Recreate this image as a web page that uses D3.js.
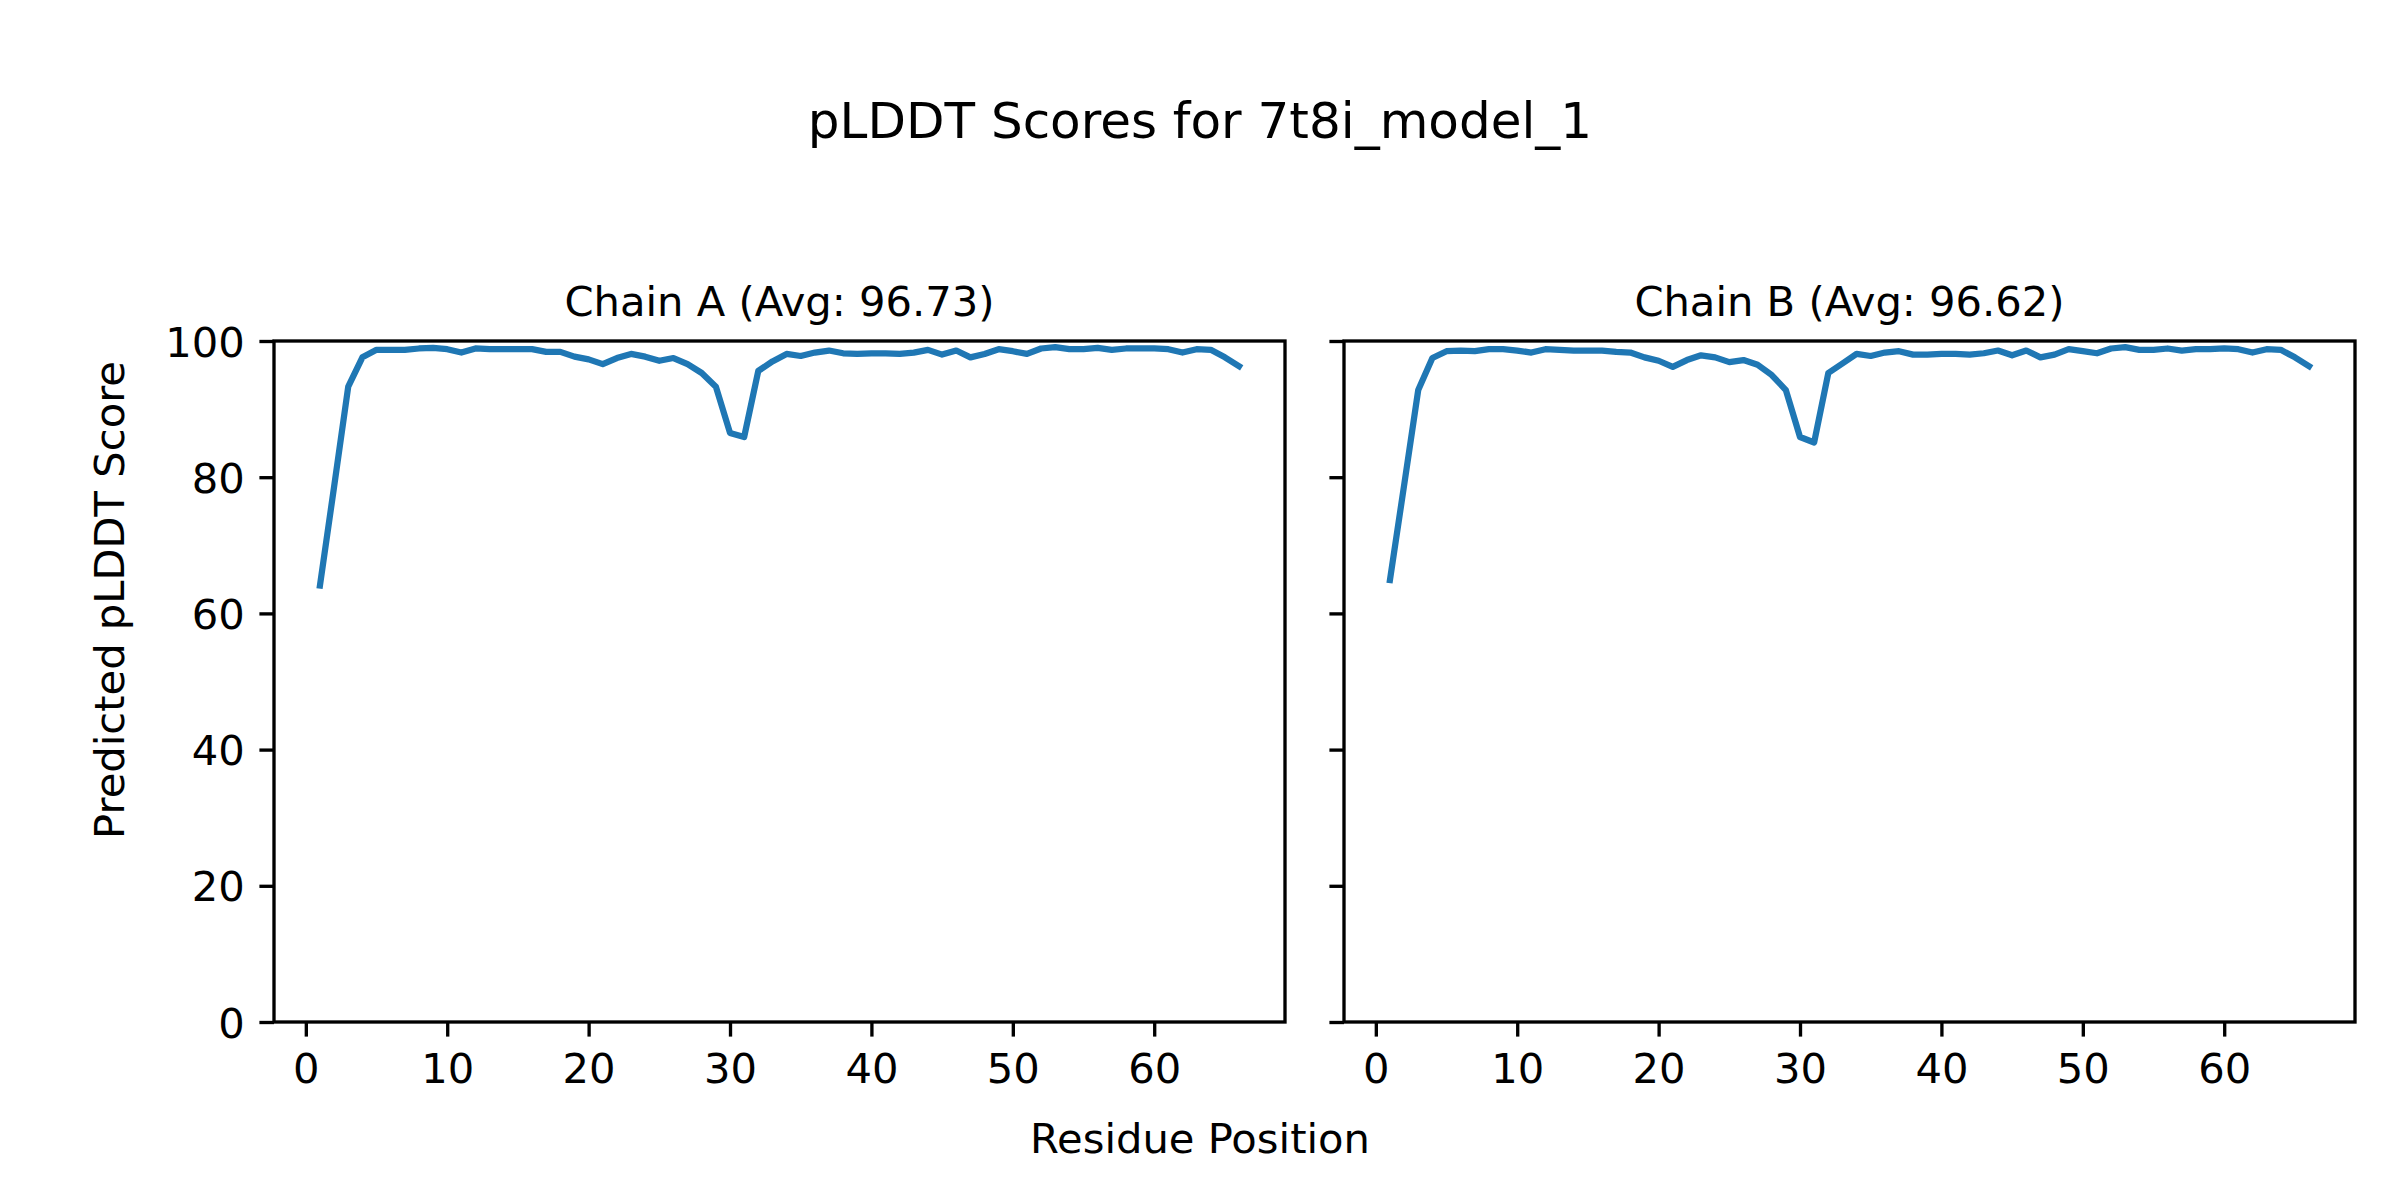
<!DOCTYPE html>
<html>
<head>
<meta charset="utf-8">
<script src="https://cdn.jsdelivr.net/npm/d3@7"></script>
<style>
    body { margin: 0; background: #fff; }
    text { font-family: 'DejaVu Sans', sans-serif; fill: #000; }
</style>
</head>
<body>
<div id="chart"></div>
<script>
// residue positions (x) for both chains
const residues = [1, 2, 3, 4, 5, 6, 7, 8, 9, 10, 11, 12, 13, 14, 15, 16, 17, 18, 19, 20,
    21, 22, 23, 24, 25, 26, 27, 28, 29, 30, 31, 32, 33, 34, 35, 36, 37, 38, 39, 40,
    41, 42, 43, 44, 45, 46, 47, 48, 49, 50, 51, 52, 53, 54, 55, 56, 57, 58, 59, 60,
    61, 62, 63, 64, 65, 66]

// pLDDT per residue
const chainA = [64.1, 78.6, 93.3, 97.6, 98.7, 98.7, 98.7, 98.9, 99.0, 98.8,
    98.3, 98.9, 98.8, 98.8, 98.8, 98.8, 98.4, 98.4, 97.7, 97.3,
    96.6, 97.5, 98.1, 97.7, 97.1, 97.5, 96.6, 95.3, 93.3, 86.5,
    85.9, 95.6, 97.0, 98.1, 97.8, 98.3, 98.6, 98.2, 98.1, 98.2,
    98.2, 98.1, 98.3, 98.7, 98.0, 98.6, 97.6, 98.1, 98.8, 98.5,
    98.1, 98.9, 99.1, 98.8, 98.8, 99.0, 98.7, 98.9, 98.9, 98.9,
    98.8, 98.3, 98.8, 98.7, 97.6, 96.3]

const chainB = [64.9, 78.8, 92.8, 97.5, 98.5, 98.6, 98.5, 98.8, 98.8, 98.6,
    98.3, 98.8, 98.7, 98.6, 98.6, 98.6, 98.4, 98.3, 97.6, 97.1,
    96.2, 97.2, 97.9, 97.6, 96.9, 97.2, 96.5, 95.0, 92.8, 85.9,
    85.1, 95.3, 96.7, 98.1, 97.8, 98.3, 98.5, 98.0, 98.0, 98.1,
    98.1, 98.0, 98.2, 98.6, 97.9, 98.6, 97.6, 98.0, 98.8, 98.5,
    98.2, 98.9, 99.1, 98.7, 98.7, 98.9, 98.6, 98.8, 98.8, 98.9,
    98.8, 98.3, 98.8, 98.7, 97.6, 96.3]

const chainNames = ['A', 'B']
const chainAvgs = ['96.73', '96.62']
const xTicks = [0, 10, 20, 30, 40, 50, 60]
const yTicks = [0, 20, 40, 60, 80, 100]

const W = 2400, H = 1200
const panel = { top: 341, width: 1011, height: 681 }
const panelLeft = [274, 1344]
const FS = 41.67
const tickLen = 14.6, tickW = 3.33

const svg = d3.select('#chart')
    .append('svg')
    .attr('width', W)
    .attr('height', H)
    .style('display', 'block')

svg.append('rect').attr('width', W).attr('height', H).attr('fill', '#fff')

const xScale = d3.scaleLinear().domain([-2.25, 69.25]).range([0, panel.width])
const yScale = d3.scaleLinear().domain([0, 100]).range([panel.height, 0])

const series = [chainA, chainB]

series.forEach(function (values, k) {
    const g = svg.append('g')
        .attr('transform', `translate(${panelLeft[k]}, ${panel.top})`)

    const data = residues.map((r, i) => ({ r: r, v: values[i] }))

    //x axis
    const xaxis = d3.axisBottom(xScale).tickValues(xTicks).tickSize(tickLen).tickPadding(14.6)
    const gx = g.append('g')
        .attr('transform', 'translate(0,' + panel.height + ')')
        .call(xaxis)
    gx.select('.domain').remove()
    gx.selectAll('line').attr('stroke', '#000').attr('stroke-width', tickW)
    gx.selectAll('text').style('font-size', FS + 'px').attr('y', 31.5)

    //y axis (labels only on the first panel)
    const yaxis = d3.axisLeft(yScale).tickValues(yTicks).tickSize(tickLen).tickPadding(14.6)
    if (k > 0) yaxis.tickFormat('')
    const gy = g.append('g').call(yaxis)
    gy.select('.domain').remove()
    gy.selectAll('line').attr('stroke', '#000').attr('stroke-width', tickW)
    gy.selectAll('text').style('font-size', FS + 'px').attr('dy', '0.36em')

    //line
    const line = d3.line()
        .x(d => xScale(d.r))
        .y(d => yScale(d.v))

    g.append('path')
        .datum(data)
        .attr('fill', 'none')
        .attr('stroke', '#1f77b4')
        .attr('stroke-width', 6.25)
        .attr('stroke-linejoin', 'round')
        .attr('stroke-linecap', 'square')
        .attr('d', line)

    //frame
    g.append('rect')
        .attr('width', panel.width)
        .attr('height', panel.height)
        .attr('fill', 'none')
        .attr('stroke', '#000')
        .attr('stroke-width', tickW)

    //panel title
    g.append('text')
        .attr('x', panel.width / 2)
        .attr('y', -25)
        .attr('text-anchor', 'middle')
        .style('font-size', FS + 'px')
        .text(`Chain ${chainNames[k]} (Avg: ${chainAvgs[k]})`)
})

//y label, centred on the figure
svg.append('text')
    .attr('transform', `translate(124, ${H / 2}) rotate(-90)`)
    .attr('text-anchor', 'middle')
    .style('font-size', FS + 'px')
    .text('Predicted pLDDT Score')

//x label
svg.append('text')
    .attr('x', W / 2)
    .attr('y', 1153)
    .attr('text-anchor', 'middle')
    .style('font-size', FS + 'px')
    .text('Residue Position')

//title
svg.append('text')
    .attr('x', W / 2)
    .attr('y', 138)
    .attr('text-anchor', 'middle')
    .style('font-size', '50px')
    .text('pLDDT Scores for 7t8i_model_1')
</script>
</body>
</html>
